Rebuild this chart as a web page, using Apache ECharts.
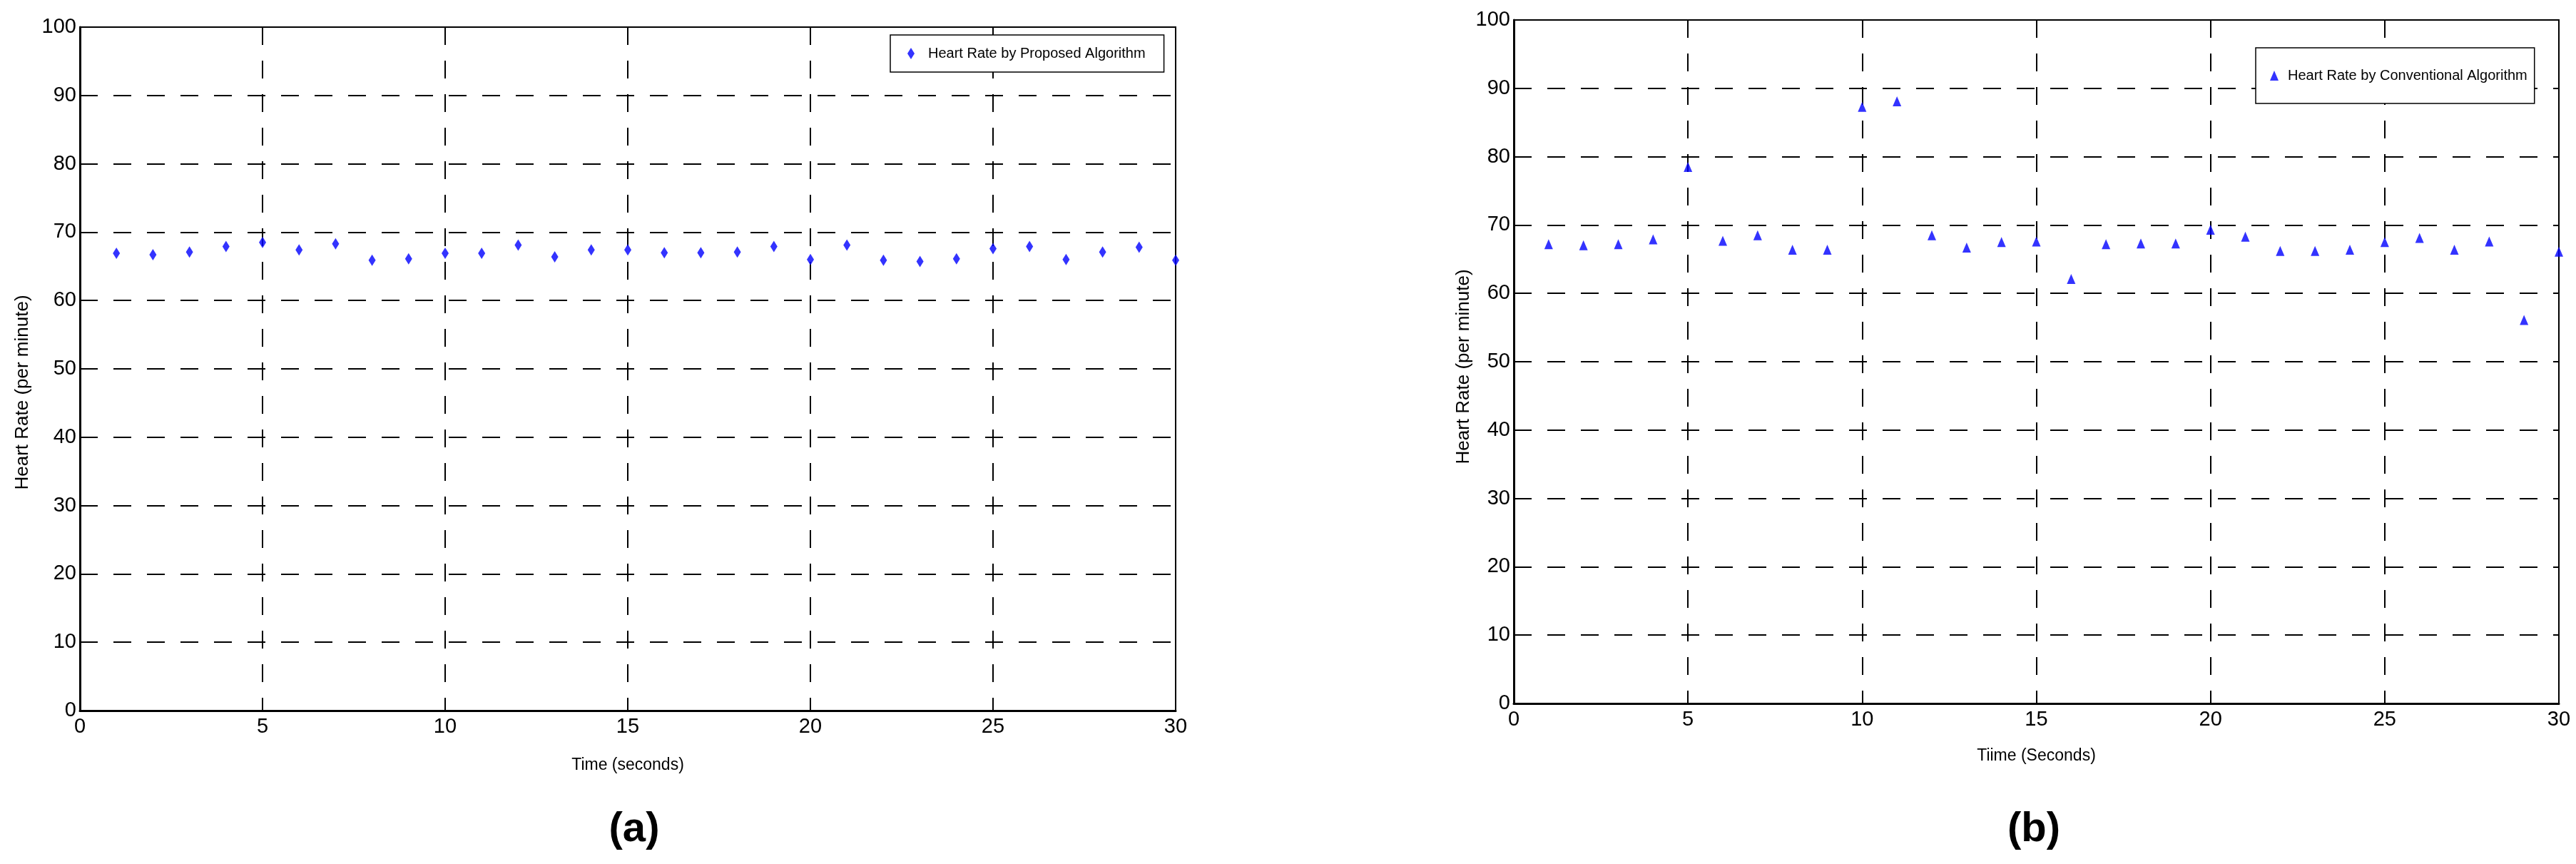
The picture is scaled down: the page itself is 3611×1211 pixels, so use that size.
<!DOCTYPE html>
<html lang="en">
<head>
    <meta charset="UTF-8">
    <title>Heart Rate: Proposed vs Conventional</title>
    <script src="https://cdn.jsdelivr.net/npm/echarts/dist/echarts.min.js"></script>
    <style>
        html, body { margin: 0; padding: 0; background: #fff; }
        #main { width: 3611px; height: 1211px; }
    </style>
</head>
<body>
    <div id="main"></div>

    <script>
        // data
        var timeSec = [1, 2, 3, 4, 5, 6, 7, 8, 9, 10, 11, 12, 13, 14, 15,
                       16, 17, 18, 19, 20, 21, 22, 23, 24, 25, 26, 27, 28, 29, 30];
        var proposedHR = [66.9, 66.7, 67.1, 67.9, 68.5, 67.4, 68.3, 65.9, 66.1, 66.9,
                          66.9, 68.1, 66.4, 67.4, 67.4, 67.0, 67.0, 67.1, 67.9, 66.0,
                          68.1, 65.9, 65.7, 66.1, 67.6, 67.9, 66.0, 67.1, 67.8, 65.9];
        var conventionalHR = [67.2, 67.05, 67.2, 67.9, 78.5, 67.7, 68.5, 66.4, 66.4, 87.3,
                              88.1, 68.5, 66.7, 67.5, 67.6, 62.1, 67.2, 67.3, 67.3, 69.3,
                              68.3, 66.2, 66.2, 66.4, 67.5, 68.1, 66.4, 67.6, 56.1, 66.1];
        var xTicks = [0, 5, 10, 15, 20, 25, 30];
        var yTicks = [0, 10, 20, 30, 40, 50, 60, 70, 80, 90, 100];

        var font = "'Liberation Sans', Arial, sans-serif";

        function pairs(ys) {
            return timeSec.map(function (t, i) { return [t, ys[i]]; });
        }

        var dashed = { color: '#000', width: 2, type: [25, 22] };

        function xAxisFor(idx, name, gap) {
            return {
                gridIndex: idx, type: 'value', min: xTicks[0], max: xTicks[xTicks.length - 1], interval: 5,
                name: name, nameLocation: 'middle', nameGap: gap,
                nameTextStyle: { fontFamily: font, fontSize: 23, color: '#000' },
                axisLine: { show: true, onZero: false, lineStyle: { color: '#000', width: 3 } },
                axisTick: { show: true, inside: true, length: 8, lineStyle: { color: '#000' } },
                axisLabel: { fontFamily: font, fontSize: 29, color: '#000', margin: 8 },
                splitLine: { show: true, lineStyle: dashed }
            };
        }

        function yAxisFor(idx, gap, shift) {
            return {
                gridIndex: idx, type: 'value', min: yTicks[0], max: yTicks[yTicks.length - 1], interval: 10,
                name: 'Heart Rate (per minute)', nameLocation: 'middle', nameGap: gap,
                nameTextStyle: { fontFamily: font, fontSize: 26, color: '#000',
                                 padding: [0, shift, 0, 0] },
                axisLine: { show: true, onZero: false, lineStyle: { color: '#000', width: 3 } },
                axisTick: { show: true, inside: true, length: 8, lineStyle: { color: '#000' } },
                axisLabel: { fontFamily: font, fontSize: 29, color: '#000', margin: 5 },
                splitLine: { show: true, lineStyle: dashed }
            };
        }

        var chart = echarts.init(document.getElementById('main'), null, { renderer: 'canvas' });

        var option = {
            backgroundColor: '#fff',
            animation: false,
            grid: [
                { left: 112, top: 38, width: 1536, height: 958, show: true, borderColor: '#000', borderWidth: 2 },
                { left: 2122, top: 28, width: 1465, height: 958, show: true, borderColor: '#000', borderWidth: 2 }
            ],
            xAxis: [
                xAxisFor(0, 'Time (seconds)', 65),
                xAxisFor(1, 'Tiime (Seconds)', 62)
            ],
            yAxis: [
                yAxisFor(0, 67, 66),
                yAxisFor(1, 47, 14)
            ],
            legend: [
                {
                    data: ['Heart Rate by Proposed Algorithm'],
                    left: 1248, top: 49,
                    padding: [16, 26, 16, 24],
                    borderColor: '#000', borderWidth: 1.5, backgroundColor: '#fff',
                    itemWidth: 10, itemHeight: 16,
                    textStyle: { fontFamily: font, fontSize: 20, color: '#000', padding: [0, 0, 0, 14] }
                },
                {
                    data: ['Heart Rate by Conventional Algorithm'],
                    left: 3162, top: 67,
                    padding: [29, 10, 29, 20],
                    borderColor: '#000', borderWidth: 1.5, backgroundColor: '#fff',
                    itemWidth: 12, itemHeight: 14,
                    textStyle: { fontFamily: font, fontSize: 20, color: '#000', padding: [0, 0, 0, 8] }
                }
            ],
            series: [
                {
                    name: 'Heart Rate by Proposed Algorithm',
                    type: 'scatter', xAxisIndex: 0, yAxisIndex: 0,
                    symbol: 'diamond', symbolSize: [10, 16],
                    itemStyle: { color: '#0000ff' },
                    data: pairs(proposedHR)
                },
                {
                    name: 'Heart Rate by Conventional Algorithm',
                    type: 'scatter', xAxisIndex: 1, yAxisIndex: 1,
                    symbol: 'triangle', symbolSize: [12, 14],
                    itemStyle: { color: '#0000ff' },
                    data: pairs(conventionalHR)
                }
            ],
            graphic: [
                {
                    type: 'text', x: 889, y: 1163,
                    style: { text: '(a)', fill: '#000', font: "bold 58px 'Liberation Sans', Arial, sans-serif",
                             textAlign: 'center', textVerticalAlign: 'middle' }
                },
                {
                    type: 'text', x: 2851, y: 1163,
                    style: { text: '(b)', fill: '#000', font: "bold 58px 'Liberation Sans', Arial, sans-serif",
                             textAlign: 'center', textVerticalAlign: 'middle' }
                }
            ]
        };

        chart.setOption(option);
    </script>
</body>
</html>
